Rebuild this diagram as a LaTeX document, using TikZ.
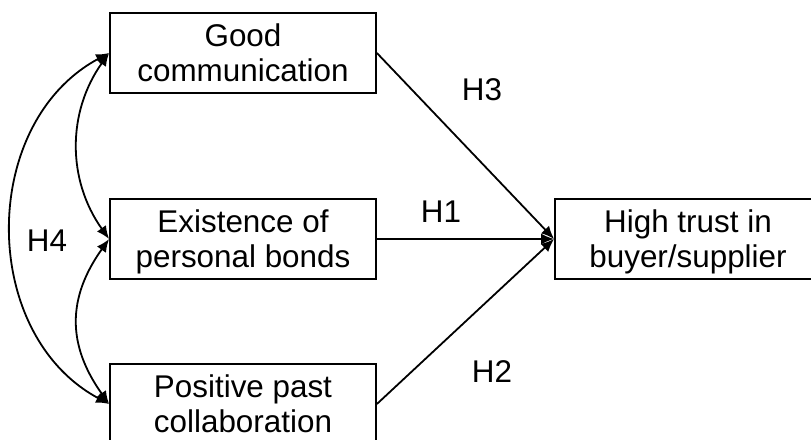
\documentclass[tikz,border=0pt]{standalone}
\usepackage{fontspec}
\setmainfont{Liberation Sans}
\usetikzlibrary{arrows.meta}
\begin{document}
\begin{tikzpicture}[x=1pt,y=-1pt,
  box/.style={draw,line width=1.8pt,minimum width=266pt,minimum height=80pt,inner sep=0pt,align=center,text depth=0pt,font=\fontsize{31.4}{35}\selectfont},
  lbl/.style={inner sep=0pt,font=\fontsize{31.4}{35}\selectfont},
  tip/.tip={Latex[length=13pt,width=11pt]},
  conn/.style={line width=1.8pt,-tip},
  biconn/.style={line width=1.8pt,tip-tip}]
\useasboundingbox (0,0) rectangle (811,439);
\clip (0,0) rectangle (811,439);
\node[box] (good) at (243,53) {Good\\communication};
\node[box] (bonds) at (243,239) {Existence of\\personal bonds};
\node[box] (past) at (243,404) {Positive past\\collaboration};
\node[box] (trust) at (688,239) {High trust in\\buyer/supplier};
\draw[conn] (good.east) -- (trust.west);
\draw[conn] (bonds.east) -- (trust.west);
\draw[conn] (past.east) -- (trust.west);
\draw[biconn] (good.west) .. controls (67,112) and (67,180) .. (bonds.west);
\draw[biconn] (bonds.west) .. controls (67,298) and (67,345) .. (past.west);
\draw[biconn] (good.west) .. controls (-21,123) and (-21,334) .. (past.west);
\node[lbl] (h1) at (441,212) {H1};
\node[lbl] (h2) at (492,372) {H2};
\node[lbl] (h3) at (482,90) {H3};
\node[lbl] (h4) at (47,241) {H4};
\end{tikzpicture}
\end{document}
